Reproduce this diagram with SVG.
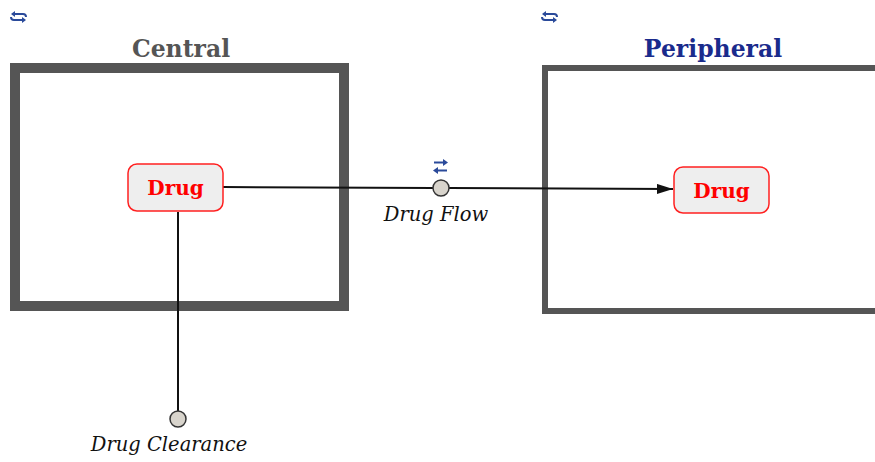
<svg xmlns="http://www.w3.org/2000/svg" width="875" height="462" viewBox="0 0 875 462">
<style>
.title{font-family:"DejaVu Serif","Liberation Serif",serif;font-weight:bold;font-size:23.5px;text-anchor:middle}
.sp{fill:#eeeeee;stroke:#ff2020;stroke-width:1.5}
.spt{font-family:"DejaVu Serif","Liberation Serif",serif;font-weight:bold;font-size:20px;fill:#ff0000;text-anchor:middle}
.lbl{font-family:"DejaVu Serif","Liberation Serif",serif;font-style:italic;font-size:19.5px;fill:#111;text-anchor:middle}
.edge{stroke:#111;stroke-width:2;fill:none}
.proc{fill:#d8d4cc;stroke:#333;stroke-width:1.5}
.icon{fill:none;stroke:#2a4a9a;stroke-width:2}
.ifill{fill:#2a4a9a}
</style>
<defs>
<marker id="arr" viewBox="0 0 16 10" refX="16" refY="5" markerWidth="16" markerHeight="10" orient="auto" markerUnits="userSpaceOnUse">
<path d="M0,0 L16,5 L0,10 z" fill="#111"/>
</marker>
<g id="loop">
<path class="icon" d="M4,2 H13 Q16,2 16,5"/>
<path class="ifill" d="M5,-1 L1,2 L5,5 z"/>
<path class="icon" d="M13,8 H4 Q1,8 1,5"/>
<path class="ifill" d="M12,5 L16,8 L12,11 z"/>
</g>
</defs>
<rect width="875" height="462" fill="#ffffff"/>

<g id="compartment-central">
<use href="#loop" x="10" y="12"/>
<text class="title" x="181" y="57" fill="#555555">Central</text>
<rect x="15" y="68" width="329" height="238" fill="none" stroke="#555555" stroke-width="10"/>
</g>

<g id="compartment-peripheral">
<use href="#loop" x="541" y="12"/>
<text class="title" x="713" y="57" fill="#1a2b8c">Peripheral</text>
<rect x="545" y="68" width="340" height="243" fill="none" stroke="#555555" stroke-width="6"/>
</g>

<g id="connectors">
<path class="edge" d="M223,187 L433,188"/>
<path class="edge" d="M449,188 L673,189" marker-end="url(#arr)"/>
<path class="edge" d="M178,212 L178,411"/>
</g>

<g id="drug-central">
<rect class="sp" x="128" y="164" width="95" height="47" rx="9"/>
<text class="spt" x="175.5" y="195">Drug</text>
</g>

<g id="drug-peripheral">
<rect class="sp" x="674" y="167" width="95" height="46" rx="9"/>
<text class="spt" x="721.5" y="198">Drug</text>
</g>

<g id="reaction-drug-flow">
<g transform="translate(433 159)">
<path d="M1,3.5 H11" class="icon"/>
<path d="M10,0 L15,3.5 L10,7 z" class="ifill"/>
<path d="M14,11.5 H4" class="icon"/>
<path d="M5,8 L0,11.5 L5,15 z" class="ifill"/>
</g>
<circle class="proc" cx="441" cy="188" r="8"/>
<text class="lbl" x="436" y="221">Drug Flow</text>
</g>

<g id="reaction-drug-clearance">
<circle class="proc" cx="178" cy="419" r="8"/>
<text class="lbl" x="169" y="451">Drug Clearance</text>
</g>
</svg>
